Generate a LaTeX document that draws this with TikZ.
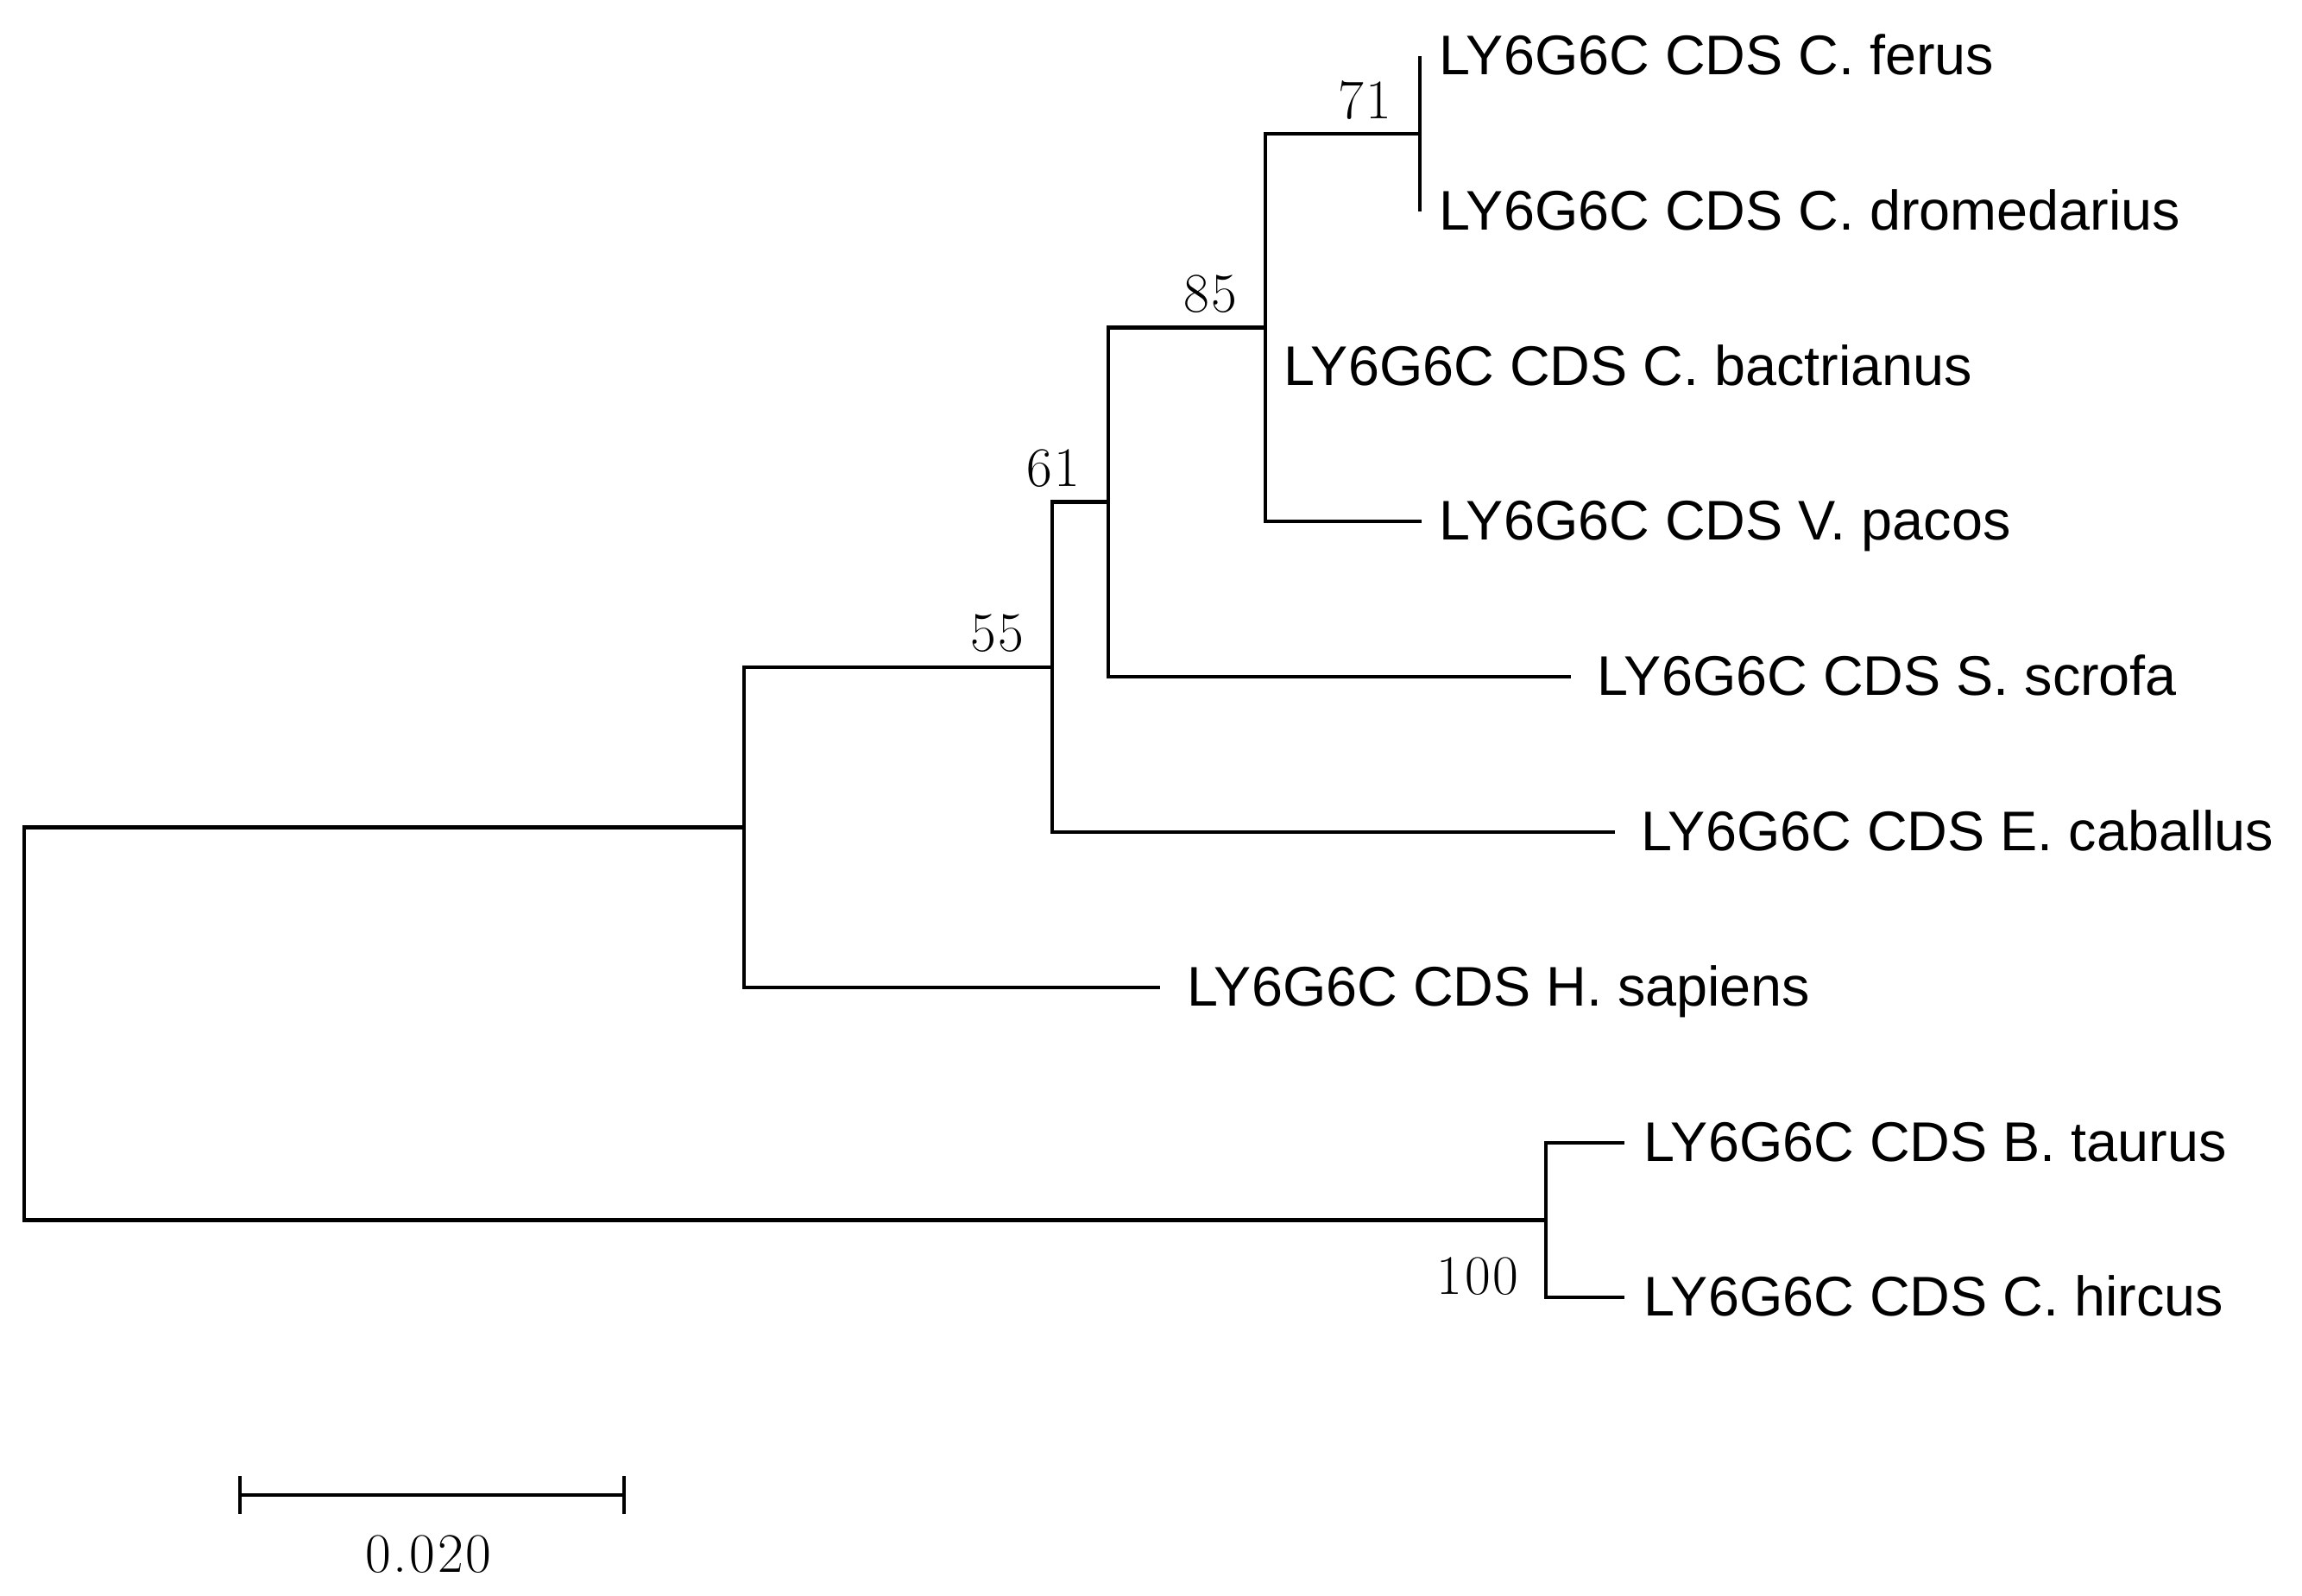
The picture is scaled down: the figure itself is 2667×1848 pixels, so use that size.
\documentclass[tikz,border=0pt]{standalone}
\usepackage{fontspec}
\newfontfamily\leaffont{Liberation Sans}
\usetikzlibrary{calc}
\newcommand\dg{\kern0.8pt}
\begin{document}
\begin{tikzpicture}[x=0.01cm, y=-0.01cm,
  branch/.style={draw=black, line width=1.35pt},
  leaflabel/.style={anchor=base west, inner sep=0pt, font=\leaffont\fontsize{18.4pt}{22pt}\selectfont},
  numlabel/.style={inner sep=0pt, font=\fontsize{18.4pt}{22pt}\selectfont},
  bootlabel/.style={numlabel, anchor=base east}]
\fill[white] (0,0) rectangle (2667,1848);
\useasboundingbox (0,0) rectangle (2667,1848);

% leaf ends
\coordinate (ferus) at (1645,65);
\coordinate (dromedarius) at (1645,245);
\coordinate (bactrianus) at (1466,425);
\coordinate (pacos) at (1647,604);
\coordinate (scrofa) at (1820,784);
\coordinate (caballus) at (1871,964);
\coordinate (sapiens) at (1344,1144);
\coordinate (taurus) at (1882,1324);
\coordinate (hircus) at (1882,1503);
% internal nodes
\coordinate (n71) at (1645,155);
\coordinate (n85) at (1466,379.5);
\coordinate (n61) at (1284,581.75);
\coordinate (n55) at (1219,772.9);
\coordinate (nHs) at (862,958.4);
\coordinate (nBos) at (1791,1413.5);
\coordinate (root) at (28,1186);

% branches
\draw[branch] (root) |- (nHs);
\draw[branch] (root) |- (nBos);
\draw[branch] (nHs) |- (n55);
\draw[branch] (nHs) |- (sapiens);
\draw[branch] (n55) |- (n61);
\draw[branch] (n55) |- (caballus);
\draw[branch] (n61) |- (n85);
\draw[branch] (n61) |- (scrofa);
\draw[branch] (n85) |- (n71);
\draw[branch] (n85) |- (bactrianus);
\draw[branch] (n85) |- (pacos);
\draw[branch] (n71) |- (ferus);
\draw[branch] (n71) |- (dromedarius);
\draw[branch] (nBos) |- (taurus);
\draw[branch] (nBos) |- (hircus);

% leaf labels
\node[leaflabel] (tferus) at ($(ferus)+(22,21)$) {LY6G6C CDS C. ferus};
\node[leaflabel] (tdromedarius) at ($(dromedarius)+(22,21)$) {LY6G6C CDS C. dromedarius};
\node[leaflabel] (tbactrianus) at ($(bactrianus)+(21,21)$) {LY6G6C CDS C. bactrianus};
\node[leaflabel] (tpacos) at ($(pacos)+(20,21)$) {LY6G6C CDS V. pacos};
\node[leaflabel] (tscrofa) at ($(scrofa)+(30,21)$) {LY6G6C CDS S. scrofa};
\node[leaflabel] (tcaballus) at ($(caballus)+(30,21)$) {LY6G6C CDS E. caballus};
\node[leaflabel] (tsapiens) at ($(sapiens)+(31,21)$) {LY6G6C CDS H. sapiens};
\node[leaflabel] (ttaurus) at ($(taurus)+(22,21)$) {LY6G6C CDS B. taurus};
\node[leaflabel] (thircus) at ($(hircus)+(22,21)$) {LY6G6C CDS C. hircus};

% bootstrap values
\node[bootlabel] (b71) at ($(n71)+(-32,-18)$) {7\dg1};
\node[bootlabel] (b85) at ($(n85)+(-32,-18)$) {8\dg5};
\node[bootlabel] (b61) at ($(n61)+(-32,-18)$) {6\dg1};
\node[bootlabel] (b55) at ($(n55)+(-32,-18)$) {5\dg5};
\node[bootlabel] (b100) at ($(nBos)+(-31,86)$) {1\dg0\dg0};

% scale bar
\coordinate (sbL) at (278,1732);
\coordinate (sbR) at (723,1732);
\draw[branch] (sbL) -- (sbR);
\draw[branch] ($(sbL)+(0,-22)$) -- ($(sbL)+(0,22)$);
\draw[branch] ($(sbR)+(0,-22)$) -- ($(sbR)+(0,22)$);
\node[numlabel, anchor=base] (sblabel) at ($($(sbL)!0.5!(sbR)$)+(-4,89)$) {0\dg.\dg0\dg2\dg0};
\end{tikzpicture}
\end{document}
